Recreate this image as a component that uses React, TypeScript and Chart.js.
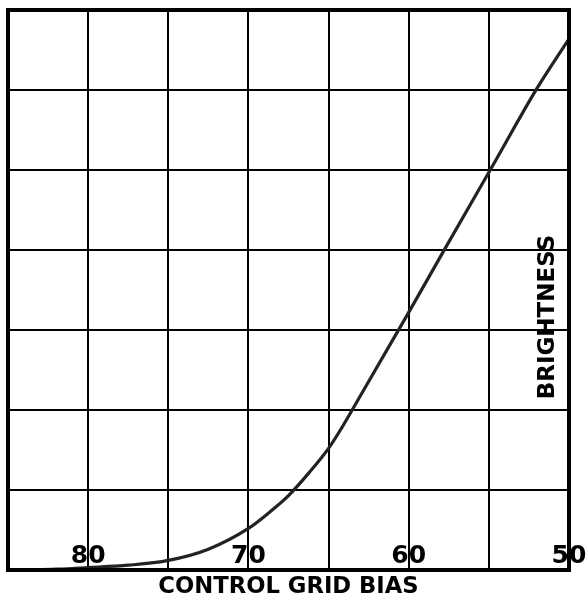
import React, { useEffect, useRef } from "react";
import { Chart, registerables } from "chart.js";

Chart.register(...registerables);

// Control grid bias (volts, axis reversed) and relative brightness
const bias = [84, 82, 80, 77.5, 75, 72.5, 70, 68.7, 67.5, 66.2, 65, 64.2, 63.5, 60, 57.7, 54.8, 52, 50];
const brightness = [0, 0.1, 0.3, 0.6, 1.2, 2.6, 5.2, 7.2, 9.3, 12.2, 15.2, 17.7, 20.1, 32.2, 40.3, 50.4, 60.2, 66.4];
const biasLabels = [80, 70, 60, 50];
const xTitle = "CONTROL GRID BIAS";
const yTitle = "BRIGHTNESS";

const overlay = {
  id: "overlay",
  afterDraw(chart: any) {
    const { ctx, chartArea } = chart;
    const xs = chart.scales.x;
    ctx.save();
    // frame
    ctx.strokeStyle = "#000";
    ctx.lineWidth = 4;
    ctx.strokeRect(chartArea.left, chartArea.top, chartArea.right - chartArea.left, chartArea.bottom - chartArea.top);
    // tick labels inside the plot
    ctx.fillStyle = "#000";
    ctx.font = "bold 25px 'DejaVu Sans'";
    ctx.textAlign = "center";
    ctx.textBaseline = "middle";
    for (const v of biasLabels) {
      ctx.fillText(String(v), xs.getPixelForValue(v), chartArea.bottom - 14);
    }
    // y title inside on the right
    ctx.translate(chartArea.right - 21, (chartArea.top + chartArea.bottom) / 2 + 27);
    ctx.rotate(-Math.PI / 2);
    ctx.font = "bold 23px 'DejaVu Sans'";
    ctx.fillText(yTitle, 0, 0);
    ctx.restore();
  },
};

export default function App() {
  const ref = useRef<HTMLCanvasElement>(null);
  useEffect(() => {
    if (!ref.current) return;
    const chart = new Chart(ref.current, {
      type: "line",
      data: {
        datasets: [
          {
            data: bias.map((b, i) => ({ x: b, y: brightness[i] })),
            borderColor: "#222",
            borderWidth: 3.2,
            pointRadius: 0,
            cubicInterpolationMode: "monotone",
            fill: false,
          },
        ],
      },
      options: {
        animation: false,
        responsive: true,
        maintainAspectRatio: false,
        layout: { padding: { left: 8, top: 10, right: 17, bottom: 0 } },
        plugins: { legend: { display: false }, tooltip: { enabled: false } },
        scales: {
          x: {
            type: "linear",
            min: 50,
            max: 85,
            reverse: true,
            ticks: { display: false, stepSize: 5 },
            grid: { color: "#000", lineWidth: 2, drawTicks: false },
            border: { display: false },
            title: {
              display: true,
              text: xTitle,
              color: "#000",
              font: { family: "'DejaVu Sans'", size: 22.7, weight: "bold", lineHeight: 1 },
              padding: { top: 0, bottom: 0 },
            },
            afterFit(scale: any) {
              scale.height = 28;
            },
          },
          y: {
            min: 0,
            max: 70,
            ticks: { display: false, stepSize: 10 },
            grid: { color: "#000", lineWidth: 2, drawTicks: false },
            border: { display: false },
            afterFit(scale: any) {
              scale.width = 0;
            },
          },
        },
      },
      plugins: [overlay],
    });
    return () => chart.destroy();
  }, []);
  return (
    <div style={{ position: "absolute", left: 0, top: 0, width: 586, height: 598, background: "#fff" }}>
      <canvas ref={ref} />
    </div>
  );
}
